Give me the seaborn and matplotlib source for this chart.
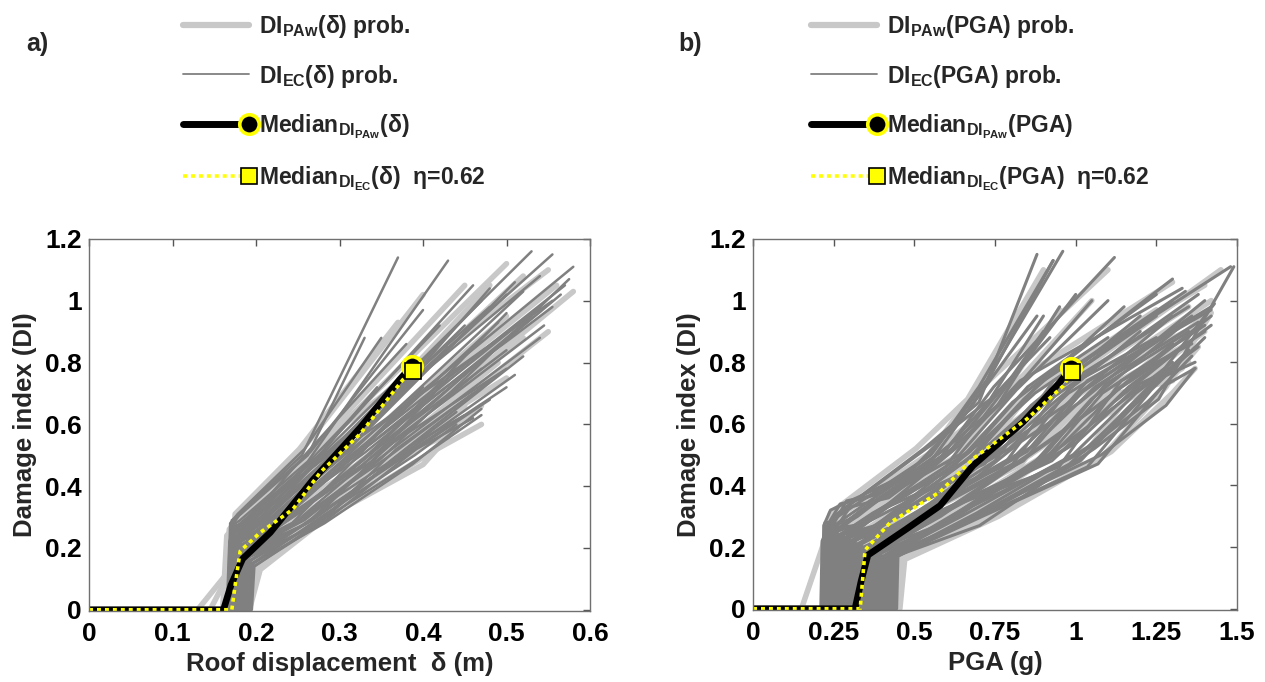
import numpy as np
import pandas as pd
import matplotlib
matplotlib.use("Agg")
import matplotlib.pyplot as plt
import seaborn as sns
from matplotlib.lines import Line2D
from matplotlib.legend_handler import HandlerLine2D

# ---------------- data ----------------
# each line: (x where DI leaves 0, x1, y1, x2, y2, ..., x_end, y_end)
# panel a: DI vs roof displacement (m)
a_ec_lines = [
    (0.165, 0.168, 0.22, 0.176, 0.30, 0.255, 0.50, 0.370, 1.14),
    (0.166, 0.169, 0.28, 0.178, 0.31, 0.258, 0.52, 0.350, 0.88),
    (0.167, 0.170, 0.27, 0.181, 0.29, 0.262, 0.48, 0.430, 1.13),
    (0.167, 0.170, 0.27, 0.184, 0.32, 0.265, 0.51, 0.400, 0.97),
    (0.168, 0.171, 0.27, 0.187, 0.28, 0.268, 0.53, 0.380, 0.86),
    (0.169, 0.172, 0.26, 0.191, 0.30, 0.272, 0.47, 0.530, 1.16),
    (0.170, 0.173, 0.26, 0.194, 0.31, 0.275, 0.50, 0.460, 1.05),
    (0.170, 0.173, 0.26, 0.197, 0.29, 0.278, 0.52, 0.420, 0.92),
    (0.171, 0.174, 0.25, 0.200, 0.33, 0.282, 0.49, 0.555, 1.15),
    (0.172, 0.175, 0.25, 0.202, 0.28, 0.285, 0.51, 0.480, 0.98),
    (0.173, 0.176, 0.24, 0.205, 0.30, 0.289, 0.53, 0.390, 0.80),
    (0.173, 0.176, 0.24, 0.208, 0.32, 0.292, 0.47, 0.580, 1.11),
    (0.174, 0.177, 0.24, 0.210, 0.29, 0.295, 0.50, 0.500, 1.02),
    (0.175, 0.178, 0.23, 0.213, 0.31, 0.299, 0.52, 0.450, 0.92),
    (0.176, 0.179, 0.23, 0.215, 0.27, 0.302, 0.48, 0.520, 1.03),
    (0.176, 0.179, 0.23, 0.218, 0.30, 0.306, 0.51, 0.430, 0.85),
    (0.177, 0.180, 0.22, 0.221, 0.32, 0.310, 0.53, 0.555, 1.00),
    (0.178, 0.181, 0.22, 0.225, 0.28, 0.315, 0.49, 0.490, 0.93),
    (0.179, 0.182, 0.22, 0.229, 0.31, 0.320, 0.50, 0.540, 0.98),
    (0.179, 0.182, 0.21, 0.232, 0.29, 0.324, 0.52, 0.460, 0.85),
    (0.180, 0.183, 0.21, 0.236, 0.30, 0.328, 0.47, 0.530, 0.95),
    (0.181, 0.184, 0.21, 0.240, 0.33, 0.331, 0.51, 0.510, 0.90),
    (0.182, 0.185, 0.20, 0.243, 0.28, 0.334, 0.53, 0.555, 0.98),
    (0.182, 0.185, 0.20, 0.247, 0.31, 0.338, 0.48, 0.440, 0.78),
    (0.183, 0.186, 0.20, 0.250, 0.29, 0.341, 0.50, 0.545, 0.92),
    (0.184, 0.187, 0.19, 0.254, 0.32, 0.344, 0.52, 0.500, 0.84),
    (0.185, 0.188, 0.19, 0.258, 0.30, 0.348, 0.49, 0.540, 0.88),
    (0.185, 0.188, 0.19, 0.261, 0.28, 0.351, 0.51, 0.470, 0.78),
    (0.186, 0.189, 0.18, 0.265, 0.31, 0.355, 0.47, 0.520, 0.82),
    (0.187, 0.190, 0.18, 0.268, 0.29, 0.358, 0.53, 0.500, 0.78),
    (0.188, 0.191, 0.17, 0.270, 0.33, 0.361, 0.50, 0.480, 0.74),
    (0.188, 0.191, 0.17, 0.273, 0.30, 0.364, 0.48, 0.510, 0.76),
    (0.189, 0.192, 0.17, 0.275, 0.28, 0.368, 0.52, 0.460, 0.70),
    (0.190, 0.193, 0.16, 0.277, 0.31, 0.372, 0.49, 0.500, 0.72),
    (0.191, 0.194, 0.16, 0.279, 0.29, 0.376, 0.51, 0.440, 0.64),
    (0.191, 0.194, 0.16, 0.280, 0.32, 0.380, 0.50, 0.480, 0.68),
    (0.192, 0.195, 0.15, 0.281, 0.30, 0.384, 0.53, 0.450, 0.63),
    (0.193, 0.196, 0.15, 0.282, 0.28, 0.387, 0.47, 0.470, 0.65),
    (0.194, 0.197, 0.15, 0.283, 0.31, 0.390, 0.50, 0.440, 0.60),
    (0.194, 0.197, 0.14, 0.284, 0.29, 0.392, 0.52, 0.460, 0.62),
    (0.195, 0.198, 0.14, 0.285, 0.30, 0.395, 0.49, 0.470, 0.63),
    (0.168, 0.171, 0.29, 0.182, 0.31, 0.262, 0.50, 0.330, 0.88),
    (0.171, 0.174, 0.26, 0.196, 0.30, 0.276, 0.50, 0.345, 0.72),
    (0.174, 0.177, 0.24, 0.212, 0.30, 0.296, 0.50, 0.360, 0.70),
    (0.178, 0.181, 0.22, 0.226, 0.30, 0.318, 0.50, 0.400, 0.72),
    (0.181, 0.184, 0.20, 0.242, 0.30, 0.333, 0.50, 0.420, 0.72),
    (0.172, 0.175, 0.25, 0.205, 0.31, 0.290, 0.52, 0.540, 1.08),
    (0.175, 0.178, 0.24, 0.215, 0.29, 0.300, 0.49, 0.510, 1.06),
    (0.178, 0.181, 0.22, 0.228, 0.31, 0.318, 0.51, 0.570, 1.05),
    (0.180, 0.183, 0.21, 0.236, 0.29, 0.326, 0.48, 0.565, 1.02),
    (0.183, 0.186, 0.20, 0.250, 0.31, 0.340, 0.51, 0.500, 0.96),
    (0.176, 0.179, 0.23, 0.220, 0.30, 0.305, 0.50, 0.480, 1.04),
    (0.185, 0.188, 0.19, 0.258, 0.29, 0.350, 0.49, 0.575, 1.07),
    (0.174, 0.177, 0.24, 0.208, 0.30, 0.294, 0.51, 0.470, 1.00),
]
a_paw_lines = [
    (0.130, 0.172, 0.14, 0.176, 0.30, 0.250, 0.50, 0.400, 1.02),
    (0.145, 0.170, 0.13, 0.175, 0.31, 0.252, 0.52, 0.370, 0.93),
    (0.160, 0.165, 0.24, 0.180, 0.29, 0.258, 0.48, 0.500, 1.12),
    (0.163, 0.168, 0.26, 0.185, 0.32, 0.265, 0.51, 0.450, 1.05),
    (0.166, 0.171, 0.25, 0.192, 0.28, 0.272, 0.53, 0.550, 1.10),
    (0.168, 0.173, 0.24, 0.198, 0.30, 0.280, 0.47, 0.480, 1.05),
    (0.170, 0.175, 0.23, 0.204, 0.31, 0.288, 0.50, 0.520, 1.08),
    (0.172, 0.177, 0.22, 0.210, 0.29, 0.295, 0.52, 0.430, 0.90),
    (0.174, 0.179, 0.22, 0.216, 0.33, 0.303, 0.49, 0.560, 1.05),
    (0.176, 0.181, 0.21, 0.222, 0.28, 0.312, 0.51, 0.500, 0.95),
    (0.178, 0.183, 0.20, 0.228, 0.30, 0.320, 0.53, 0.540, 0.97),
    (0.180, 0.185, 0.20, 0.234, 0.32, 0.328, 0.47, 0.580, 1.03),
    (0.182, 0.187, 0.19, 0.240, 0.29, 0.336, 0.50, 0.470, 0.85),
    (0.184, 0.189, 0.18, 0.246, 0.31, 0.344, 0.52, 0.520, 0.88),
    (0.185, 0.190, 0.17, 0.252, 0.27, 0.352, 0.48, 0.550, 0.90),
    (0.186, 0.191, 0.16, 0.258, 0.30, 0.360, 0.51, 0.490, 0.80),
    (0.187, 0.192, 0.16, 0.264, 0.32, 0.368, 0.53, 0.500, 0.75),
    (0.188, 0.194, 0.15, 0.270, 0.28, 0.376, 0.49, 0.450, 0.66),
    (0.189, 0.196, 0.14, 0.275, 0.31, 0.384, 0.50, 0.470, 0.66),
    (0.190, 0.198, 0.14, 0.280, 0.29, 0.392, 0.52, 0.440, 0.58),
    (0.191, 0.200, 0.13, 0.285, 0.30, 0.400, 0.47, 0.450, 0.62),
    (0.192, 0.205, 0.13, 0.290, 0.31, 0.410, 0.51, 0.470, 0.60),
]
a_med_paw_x = [0, 0.161, 0.170, 0.184, 0.217, 0.268, 0.325, 0.372, 0.387]
a_med_paw_y = [0, 0, 0.08, 0.165, 0.25, 0.42, 0.59, 0.745, 0.79]
a_med_ec_x = [0, 0.171, 0.175, 0.181, 0.205, 0.244, 0.277, 0.325, 0.376, 0.388]
a_med_ec_y = [0, 0, 0.08, 0.19, 0.25, 0.325, 0.445, 0.57, 0.745, 0.772]

# panel b: DI vs PGA (g)
b_ec_lines = [
    (0.210, 0.214, 0.22, 0.250, 0.30, 0.530, 0.52, 0.700, 0.67, 0.880, 1.15),
    (0.215, 0.219, 0.27, 0.240, 0.32, 0.545, 0.47, 0.712, 0.71, 0.930, 1.13),
    (0.219, 0.223, 0.28, 0.235, 0.28, 0.552, 0.50, 0.723, 0.74, 0.960, 1.16),
    (0.224, 0.228, 0.26, 0.290, 0.33, 0.563, 0.54, 0.735, 0.68, 0.900, 0.95),
    (0.229, 0.233, 0.26, 0.297, 0.29, 0.574, 0.48, 0.746, 0.72, 1.120, 1.14),
    (0.234, 0.238, 0.26, 0.306, 0.31, 0.585, 0.51, 0.758, 0.66, 0.950, 0.98),
    (0.238, 0.242, 0.26, 0.315, 0.27, 0.596, 0.46, 0.770, 0.70, 1.000, 1.02),
    (0.243, 0.247, 0.25, 0.324, 0.30, 0.607, 0.53, 0.781, 0.73, 0.920, 0.88),
    (0.248, 0.252, 0.25, 0.334, 0.32, 0.618, 0.52, 0.793, 0.69, 1.050, 1.00),
    (0.252, 0.256, 0.25, 0.343, 0.28, 0.629, 0.47, 0.804, 0.67, 1.300, 1.07),
    (0.257, 0.261, 0.25, 0.352, 0.33, 0.640, 0.50, 0.816, 0.71, 1.100, 1.00),
    (0.262, 0.266, 0.24, 0.361, 0.29, 0.651, 0.54, 0.828, 0.74, 1.330, 1.04),
    (0.266, 0.270, 0.24, 0.370, 0.31, 0.662, 0.48, 0.839, 0.68, 1.150, 0.98),
    (0.271, 0.275, 0.24, 0.380, 0.27, 0.673, 0.51, 0.851, 0.72, 1.250, 1.02),
    (0.276, 0.280, 0.24, 0.389, 0.30, 0.684, 0.46, 0.862, 0.66, 1.200, 0.95),
    (0.281, 0.285, 0.23, 0.398, 0.32, 0.695, 0.53, 0.874, 0.70, 1.340, 1.03),
    (0.285, 0.289, 0.23, 0.407, 0.28, 0.706, 0.52, 0.886, 0.73, 1.100, 0.88),
    (0.290, 0.294, 0.23, 0.416, 0.33, 0.717, 0.47, 0.897, 0.69, 1.300, 1.00),
    (0.295, 0.299, 0.23, 0.426, 0.29, 0.728, 0.50, 0.909, 0.67, 1.380, 1.02),
    (0.299, 0.303, 0.22, 0.435, 0.31, 0.739, 0.54, 0.920, 0.71, 1.250, 0.95),
    (0.304, 0.308, 0.22, 0.444, 0.27, 0.750, 0.48, 0.932, 0.74, 1.480, 1.11),
    (0.309, 0.313, 0.22, 0.453, 0.30, 0.761, 0.51, 0.944, 0.68, 1.200, 0.90),
    (0.313, 0.317, 0.22, 0.462, 0.32, 0.772, 0.46, 0.955, 0.72, 1.350, 0.98),
    (0.318, 0.322, 0.21, 0.472, 0.28, 0.783, 0.53, 0.967, 0.66, 1.300, 0.95),
    (0.323, 0.327, 0.21, 0.481, 0.33, 0.794, 0.52, 0.978, 0.70, 1.420, 0.98),
    (0.328, 0.332, 0.21, 0.490, 0.29, 0.805, 0.47, 0.990, 0.73, 1.250, 0.88),
    (0.332, 0.336, 0.21, 0.499, 0.31, 0.816, 0.50, 1.002, 0.69, 1.360, 0.95),
    (0.337, 0.341, 0.20, 0.508, 0.27, 0.827, 0.54, 1.013, 0.67, 1.400, 1.00),
    (0.342, 0.346, 0.20, 0.518, 0.30, 0.838, 0.48, 1.025, 0.71, 1.300, 0.90),
    (0.346, 0.350, 0.20, 0.527, 0.32, 0.849, 0.51, 1.036, 0.74, 1.420, 0.97),
    (0.351, 0.355, 0.20, 0.536, 0.28, 0.860, 0.46, 1.048, 0.68, 1.330, 0.92),
    (0.356, 0.360, 0.19, 0.545, 0.33, 0.871, 0.53, 1.060, 0.72, 1.380, 0.93),
    (0.360, 0.364, 0.19, 0.554, 0.29, 0.882, 0.52, 1.071, 0.66, 1.300, 0.86),
    (0.365, 0.369, 0.19, 0.564, 0.31, 0.893, 0.47, 1.083, 0.70, 1.400, 0.92),
    (0.370, 0.374, 0.19, 0.573, 0.27, 0.904, 0.50, 1.094, 0.73, 1.350, 0.90),
    (0.375, 0.379, 0.18, 0.582, 0.30, 0.915, 0.54, 1.106, 0.69, 1.420, 0.95),
    (0.379, 0.383, 0.18, 0.591, 0.32, 0.926, 0.48, 1.118, 0.67, 1.330, 0.85),
    (0.384, 0.388, 0.18, 0.600, 0.28, 0.937, 0.51, 1.129, 0.71, 1.400, 0.90),
    (0.389, 0.393, 0.18, 0.610, 0.33, 0.948, 0.46, 1.141, 0.74, 1.360, 0.86),
    (0.393, 0.397, 0.18, 0.619, 0.29, 0.959, 0.53, 1.152, 0.68, 1.300, 0.80),
    (0.398, 0.402, 0.17, 0.628, 0.31, 0.970, 0.52, 1.164, 0.72, 1.420, 0.92),
    (0.403, 0.407, 0.17, 0.637, 0.27, 0.981, 0.47, 1.176, 0.66, 1.350, 0.84),
    (0.407, 0.411, 0.17, 0.646, 0.30, 0.992, 0.50, 1.187, 0.70, 1.380, 0.85),
    (0.412, 0.416, 0.17, 0.656, 0.32, 1.003, 0.54, 1.199, 0.73, 1.300, 0.78),
    (0.417, 0.421, 0.17, 0.665, 0.28, 1.014, 0.48, 1.210, 0.69, 1.430, 0.99),
    (0.422, 0.426, 0.17, 0.674, 0.33, 1.025, 0.51, 1.222, 0.67, 1.360, 0.82),
    (0.426, 0.430, 0.17, 0.683, 0.29, 1.036, 0.46, 1.234, 0.71, 1.400, 0.88),
    (0.431, 0.435, 0.17, 0.692, 0.31, 1.047, 0.53, 1.245, 0.74, 1.370, 0.80),
    (0.436, 0.440, 0.17, 0.702, 0.27, 1.058, 0.52, 1.257, 0.68, 1.490, 1.11),
    (0.440, 0.444, 0.17, 0.711, 0.30, 1.069, 0.47, 1.268, 0.72, 1.370, 0.78),
    (0.445, 0.449, 0.17, 0.720, 0.32, 1.080, 0.50, 1.280, 0.66, 1.370, 0.78),
    (0.225, 0.230, 0.27, 0.270, 0.34, 0.350, 0.36, 0.400, 0.38, 0.550, 0.50, 0.700, 0.72, 0.930, 1.13),
    (0.232, 0.236, 0.25, 0.290, 0.35, 0.380, 0.37, 0.500, 0.46, 0.650, 0.62, 0.880, 0.95),
    (0.240, 0.244, 0.24, 0.300, 0.33, 0.420, 0.36, 0.600, 0.50, 0.800, 0.75, 0.900, 0.90),
]
b_paw_lines = [
    (0.150, 0.215, 0.20, 0.240, 0.31, 0.505, 0.52, 0.665, 0.68, 0.900, 1.10),
    (0.220, 0.225, 0.24, 0.250, 0.29, 0.530, 0.48, 0.690, 0.71, 0.820, 0.92),
    (0.232, 0.237, 0.26, 0.285, 0.32, 0.555, 0.51, 0.720, 0.73, 1.100, 1.10),
    (0.244, 0.249, 0.25, 0.306, 0.28, 0.585, 0.53, 0.758, 0.67, 0.950, 0.97),
    (0.256, 0.261, 0.24, 0.330, 0.31, 0.612, 0.47, 0.787, 0.70, 1.050, 1.00),
    (0.267, 0.272, 0.24, 0.352, 0.30, 0.640, 0.50, 0.816, 0.74, 1.300, 1.06),
    (0.279, 0.284, 0.23, 0.375, 0.33, 0.668, 0.52, 0.845, 0.69, 1.250, 0.97),
    (0.290, 0.295, 0.22, 0.398, 0.29, 0.695, 0.49, 0.874, 0.72, 1.400, 1.05),
    (0.302, 0.307, 0.22, 0.421, 0.27, 0.722, 0.54, 0.903, 0.68, 1.350, 0.98),
    (0.314, 0.319, 0.21, 0.444, 0.31, 0.750, 0.48, 0.932, 0.71, 1.450, 1.10),
    (0.326, 0.331, 0.21, 0.467, 0.32, 0.778, 0.51, 0.961, 0.66, 1.300, 0.90),
    (0.337, 0.342, 0.20, 0.490, 0.28, 0.805, 0.53, 0.990, 0.70, 1.420, 1.00),
    (0.349, 0.354, 0.20, 0.513, 0.30, 0.832, 0.47, 1.019, 0.73, 1.380, 0.92),
    (0.361, 0.366, 0.19, 0.536, 0.33, 0.860, 0.50, 1.048, 0.69, 1.330, 0.85),
    (0.373, 0.378, 0.19, 0.559, 0.29, 0.888, 0.52, 1.077, 0.67, 1.400, 0.95),
    (0.384, 0.389, 0.18, 0.582, 0.31, 0.915, 0.48, 1.106, 0.72, 1.350, 0.80),
    (0.396, 0.401, 0.18, 0.605, 0.27, 0.942, 0.51, 1.135, 0.70, 1.300, 0.74),
    (0.408, 0.413, 0.17, 0.628, 0.32, 0.970, 0.54, 1.164, 0.68, 1.330, 0.78),
    (0.420, 0.425, 0.17, 0.651, 0.30, 0.998, 0.46, 1.193, 0.73, 1.400, 0.90),
    (0.432, 0.437, 0.17, 0.674, 0.28, 1.025, 0.50, 1.222, 0.71, 1.350, 0.82),
    (0.443, 0.448, 0.16, 0.697, 0.31, 1.052, 0.53, 1.251, 0.69, 1.380, 0.85),
    (0.450, 0.455, 0.16, 0.720, 0.29, 1.080, 0.49, 1.280, 0.72, 1.420, 0.96),
    (0.455, 0.470, 0.16, 0.760, 0.30, 1.110, 0.51, 1.300, 0.70, 1.370, 0.78),
]
b_med_paw_x = [0, 0.316, 0.335, 0.356, 0.477, 0.58, 0.682, 0.837, 0.951, 0.984]
b_med_paw_y = [0, 0, 0.09, 0.174, 0.26, 0.335, 0.465, 0.606, 0.735, 0.78]
b_med_ec_x = [0, 0.332, 0.340, 0.347, 0.425, 0.58, 0.682, 0.849, 0.961, 0.988]
b_med_ec_y = [0, 0, 0.10, 0.19, 0.28, 0.38, 0.487, 0.616, 0.723, 0.768]

a_xticks = [0, 0.1, 0.2, 0.3, 0.4, 0.5, 0.6]
a_xticklabels = ["0", "0.1", "0.2", "0.3", "0.4", "0.5", "0.6"]
b_xticks = [0, 0.25, 0.5, 0.75, 1.0, 1.25, 1.5]
b_xticklabels = ["0", "0.25", "0.5", "0.75", "1", "1.25", "1.5"]
yticks = [0, 0.2, 0.4, 0.6, 0.8, 1.0, 1.2]
yticklabels = ["0", "0.2", "0.4", "0.6", "0.8", "1", "1.2"]

# ---------------- style ----------------
sns.set_style("white")
plt.rcParams["font.family"] = ["Liberation Sans", "DejaVu Sans"]
plt.rcParams["font.weight"] = "bold"
plt.rcParams["axes.labelweight"] = "bold"
plt.rcParams["mathtext.fontset"] = "custom"
plt.rcParams["mathtext.rm"] = "Liberation Sans:bold"
plt.rcParams["mathtext.it"] = "Liberation Sans:bold"
plt.rcParams["mathtext.bf"] = "Liberation Sans:bold"
plt.rcParams["mathtext.default"] = "regular"

LIGHT = "#c8c8c8"
DARK = "#808080"
YEL = "#ffff00"
TICK_FS = 19
LABEL_FS = 18.5
LEG_FS = 16.5


def lines_df(lines):
    rows = []
    for i, t in enumerate(lines):
        pts = [(0.0, 0.0), (t[0], 0.0)] + list(zip(t[1::2], t[2::2]))
        for x, y in pts:
            rows.append((i, x, y))
    return pd.DataFrame(rows, columns=["id", "x", "y"])


class EndMarkerHandler(HandlerLine2D):
    def create_artists(self, *args, **kwargs):
        arts = super().create_artists(*args, **kwargs)
        for a in arts:
            a.set_markevery([2])
        return arts


fig = plt.figure(figsize=(12.65, 6.82), dpi=100)
ax_a = fig.add_axes([0.0704, 0.1041, 0.396, 0.5455])
ax_b = fig.add_axes([0.5953, 0.1056, 0.3826, 0.5440])

panels = [
    (ax_a, a_paw_lines, a_ec_lines, a_med_paw_x, a_med_paw_y, a_med_ec_x, a_med_ec_y,
     (0, 0.6), a_xticks, a_xticklabels, "Roof displacement  δ (m)", "δ", 1.8),
    (ax_b, b_paw_lines, b_ec_lines, b_med_paw_x, b_med_paw_y, b_med_ec_x, b_med_ec_y,
     (0, 1.5), b_xticks, b_xticklabels, "PGA (g)", "PGA", 2.2),
]

for (ax, paw, ec, mpx, mpy, mex, mey, xlim, xt, xtl, xlabel, arg, dlw) in panels:
    sns.lineplot(data=lines_df(paw), x="x", y="y", units="id", estimator=None, sort=False,
                 color=LIGHT, lw=4.0, ax=ax, legend=False)
    sns.lineplot(data=lines_df(ec), x="x", y="y", units="id", estimator=None, sort=False,
                 color=DARK, lw=dlw, ax=ax, legend=False)
    sns.lineplot(x=mpx, y=mpy, sort=False, estimator=None, color="black", lw=4.8, ax=ax)
    sns.lineplot(x=mex, y=mey, sort=False, estimator=None, color=YEL, lw=2.6,
                 linestyle=(0, (1.1, 1.1)), ax=ax)
    ax.plot(mpx[-1], mpy[-1], marker="o", ms=14, mfc="black", mec=YEL, mew=2.6, zorder=5)
    ax.plot(mex[-1], mey[-1], marker="s", ms=11, mfc=YEL, mec="black", mew=1.2, zorder=6)

    ax.set_xlim(*xlim)
    ax.set_ylim(-0.004, 1.2)
    ax.set_xticks(xt)
    ax.set_xticklabels(xtl)
    ax.set_yticks(yticks)
    ax.set_yticklabels(yticklabels)
    ax.tick_params(direction="in", length=5, width=1, color="#555555", top=True, right=True,
                   labelsize=TICK_FS, labelcolor="black")
    ax.tick_params(axis="x", pad=8)
    ax.tick_params(axis="y", pad=5)
    for s in ax.spines.values():
        s.set_visible(True)
        s.set_color("#707070")
        s.set_linewidth(1.0)
    ax.set_xlabel(xlabel, fontsize=LABEL_FS, labelpad=4)
    ax.set_ylabel("Damage index (DI)", fontsize=LABEL_FS, labelpad=6)

    handles = [
        Line2D([], [], color=LIGHT, lw=4.5),
        Line2D([], [], color=DARK, lw=1.3),
        Line2D([], [], color="black", lw=5, marker="o", ms=14, mfc="black", mec=YEL, mew=2.6),
        Line2D([], [], color=YEL, lw=2.6, linestyle=(0, (1.1, 1.1)), marker="s", ms=12,
               mfc=YEL, mec="black", mew=1.2),
    ]
    labels = [
        r"DI$_{PAw}$(%s) prob." % arg,
        r"DI$_{EC}$(%s) prob." % arg,
        r"Median$_{DI_{PAw}}$(%s)" % arg,
        r"Median$_{DI_{EC}}$(%s)  η=0.62" % arg,
    ]
    hm = {h: EndMarkerHandler() for h in handles[2:]}
    if ax is ax_a:
        anchor = (178 / 1265, 1 - 8 / 682)
    else:
        anchor = (806 / 1265, 1 - 8 / 682)
    ax.legend(handles, labels, loc="upper left", bbox_to_anchor=anchor,
              bbox_transform=fig.transFigure, frameon=False, fontsize=LEG_FS,
              handlelength=2.9, handletextpad=0.45, labelspacing=1.0, numpoints=1,
              handler_map=hm, borderaxespad=0, borderpad=0.2)

fig.text(37 / 1265, 1 - 44 / 682, "a)", fontsize=18, fontweight="bold", ha="center", va="center")
fig.text(690 / 1265, 1 - 44 / 682, "b)", fontsize=18, fontweight="bold", ha="center", va="center")

fig.savefig("out.png", dpi=100)
